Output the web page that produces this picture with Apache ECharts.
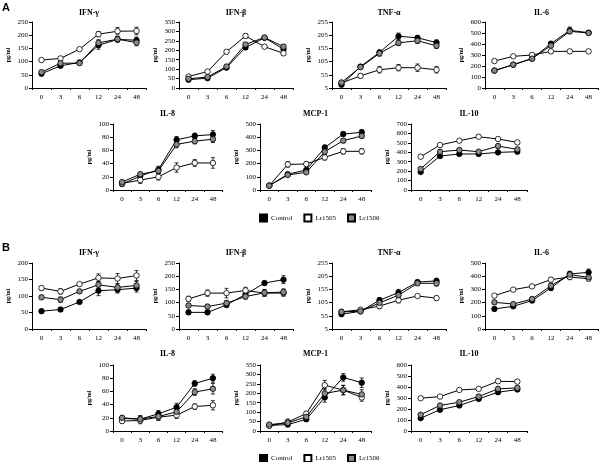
<!DOCTYPE html>
<html><head><meta charset="utf-8">
<script src="https://cdn.jsdelivr.net/npm/echarts@6/dist/echarts.min.js"></script>
<style>html,body{margin:0;padding:0;background:#fff}#c{width:600px;height:462px}</style>
</head><body><div id="c"></div>
<script>
const times = ['0','3','6','12','24','48'];
const seriesNames = ['Control','Lr1505','Lr1506'];

// ---- Panel A ----
const A_IFNg_ctrl = [54,84,97,162,184,181],   A_IFNg_ctrlErr = [5,6,5,15,10,12];
const A_IFNg_1505 = [106,112,147,204,215,216], A_IFNg_1505Err = [6,6,5,10,14,14];
const A_IFNg_1506 = [60,94,94,171,185,172],   A_IFNg_1506Err = [6,6,6,12,10,12];

const A_IFNb_ctrl = [44,52,108,215,266,206],  A_IFNb_ctrlErr = [5,5,8,10,10,10];
const A_IFNb_1505 = [61,87,192,276,219,184],  A_IFNb_1505Err = [5,5,10,12,10,8];
const A_IFNb_1506 = [49,58,114,231,268,219],  A_IFNb_1506Err = [5,5,8,10,10,10];

const A_TNF_ctrl = [17,86,140,201,195,177],   A_TNF_ctrlErr = [4,8,8,12,8,10];
const A_TNF_1505 = [24,51,74,82,82,74],       A_TNF_1505Err = [4,8,12,12,14,12];
const A_TNF_1506 = [26,84,136,176,184,165],   A_TNF_1506Err = [4,8,10,10,10,10];

const A_IL6_ctrl = [158,212,267,403,524,503], A_IL6_ctrlErr = [10,10,10,20,30,15];
const A_IL6_1505 = [245,288,300,333,333,333], A_IL6_1505Err = [10,10,10,15,15,10];
const A_IL6_1506 = [158,212,267,385,515,500], A_IL6_1506Err = [10,10,10,15,20,15];

const A_IL8_ctrl = [9,21,31,76,82,84],        A_IL8_ctrlErr = [2,3,5,5,4,6];
const A_IL8_1505 = [10,15,20,34,41,41],       A_IL8_1505Err = [2,5,5,7,5,8];
const A_IL8_1506 = [12,24,29,69,74,77],       A_IL8_1506Err = [2,3,4,5,4,5];

const A_MCP_ctrl = [33,119,152,321,424,437],  A_MCP_ctrlErr = [5,10,10,20,15,20];
const A_MCP_1505 = [33,194,197,247,293,293],  A_MCP_1505Err = [5,20,15,20,20,20];
const A_MCP_1506 = [33,114,134,290,374,409],  A_MCP_1506Err = [5,10,10,15,15,15];

const A_IL10_ctrl = [191,360,382,382,399,406], A_IL10_ctrlErr = [15,15,15,15,20,15];
const A_IL10_1505 = [353,477,523,565,541,505], A_IL10_1505Err = [15,15,12,12,15,20];
const A_IL10_1506 = [223,406,424,406,466,431], A_IL10_1506Err = [15,15,15,15,20,15];

// ---- Panel B ----
const B_IFNg_ctrl = [54,59,82,116,119,124],    B_IFNg_ctrlErr = [6,6,5,15,10,12];
const B_IFNg_1505 = [124,114,136,155,153,162], B_IFNg_1505Err = [6,8,5,12,15,15];
const B_IFNg_1506 = [96,89,114,134,126,132],   B_IFNg_1506Err = [6,8,6,10,10,12];

const B_IFNb_ctrl = [63,63,91,131,174,187],    B_IFNb_ctrlErr = [8,8,8,10,8,15];
const B_IFNb_1505 = [114,136,136,146,136,136], B_IFNb_1505Err = [10,12,18,12,12,12];
const B_IFNb_1506 = [89,85,98,123,137,140],    B_IFNb_1506Err = [8,8,10,10,12,12];

const B_TNF_ctrl = [61,72,114,143,183,187],    B_TNF_ctrlErr = [5,6,10,12,6,10];
const B_TNF_1505 = [70,78,92,114,130,122],     B_TNF_1505Err = [5,6,10,10,6,8];
const B_TNF_1506 = [70,72,104,133,178,178],    B_TNF_1506Err = [5,6,8,10,8,10];

const B_IL6_ctrl = [152,172,215,311,417,429],  B_IL6_ctrlErr = [15,12,12,20,20,25];
const B_IL6_1505 = [253,298,323,374,394,381],  B_IL6_1505Err = [10,10,10,15,20,15];
const B_IL6_1506 = [202,189,227,328,412,391],  B_IL6_1506Err = [15,10,15,20,20,20];

const B_IL8_ctrl = [19,18,26,36,72,80],        B_IL8_ctrlErr = [3,5,5,6,4,6];
const B_IL8_1505 = [15,16,21,24,37,39],        B_IL8_1505Err = [3,5,5,5,4,7];
const B_IL8_1506 = [20,18,22,29,59,64],        B_IL8_1506Err = [3,5,5,5,5,8];

const B_MCP_ctrl = [30,34,62,178,284,256],     B_MCP_ctrlErr = [5,5,8,25,20,25];
const B_MCP_1505 = [27,48,92,243,217,178],     B_MCP_1505Err = [5,15,10,25,25,20];
const B_MCP_1506 = [34,43,75,199,217,194],     B_MCP_1506Err = [5,10,8,25,25,25];

const B_IL10_ctrl = [117,193,232,292,352,377], B_IL10_ctrlErr = [10,12,12,15,20,15];
const B_IL10_1505 = [298,313,373,383,452,449], B_IL10_1505Err = [10,10,12,15,20,15];
const B_IL10_1506 = [148,232,262,313,383,392], B_IL10_1506Err = [10,12,12,15,15,15];

// axis tick settings per panel: [min, max, interval]
const panels = [
  {t:'IFN-γ', d:[A_IFNg_ctrl,A_IFNg_1505,A_IFNg_1506], e:[A_IFNg_ctrlErr,A_IFNg_1505Err,A_IFNg_1506Err], ax:[0,250,50], g:[32,22,114], ty:13},
  {t:'IFN-β', d:[A_IFNb_ctrl,A_IFNb_1505,A_IFNb_1506], e:[A_IFNb_ctrlErr,A_IFNb_1505Err,A_IFNb_1506Err], ax:[0,350,50], g:[179,22,114], ty:13},
  {t:'TNF-α', d:[A_TNF_ctrl,A_TNF_1505,A_TNF_1506], e:[A_TNF_ctrlErr,A_TNF_1505Err,A_TNF_1506Err], ax:[5,255,50], g:[332,22,114], ty:13},
  {t:'IL-6', d:[A_IL6_ctrl,A_IL6_1505,A_IL6_1506], e:[A_IL6_ctrlErr,A_IL6_1505Err,A_IL6_1506Err], ax:[0,600,100], g:[485,22,113], ty:13},
  {t:'IL-8', d:[A_IL8_ctrl,A_IL8_1505,A_IL8_1506], e:[A_IL8_ctrlErr,A_IL8_1505Err,A_IL8_1506Err], ax:[0,100,20], g:[113,124,109], ty:114},
  {t:'MCP-1', d:[A_MCP_ctrl,A_MCP_1505,A_MCP_1506], e:[A_MCP_ctrlErr,A_MCP_1505Err,A_MCP_1506Err], ax:[0,500,100], g:[260,124,111], ty:114},
  {t:'IL-10', d:[A_IL10_ctrl,A_IL10_1505,A_IL10_1506], e:[A_IL10_ctrlErr,A_IL10_1505Err,A_IL10_1506Err], ax:[0,700,100], g:[411,124,116], ty:114},
  {t:'IFN-γ', d:[B_IFNg_ctrl,B_IFNg_1505,B_IFNg_1506], e:[B_IFNg_ctrlErr,B_IFNg_1505Err,B_IFNg_1506Err], ax:[0,200,50], g:[32,263,114], ty:253},
  {t:'IFN-β', d:[B_IFNb_ctrl,B_IFNb_1505,B_IFNb_1506], e:[B_IFNb_ctrlErr,B_IFNb_1505Err,B_IFNb_1506Err], ax:[0,250,50], g:[179,263,114], ty:253},
  {t:'TNF-α', d:[B_TNF_ctrl,B_TNF_1505,B_TNF_1506], e:[B_TNF_ctrlErr,B_TNF_1505Err,B_TNF_1506Err], ax:[5,255,50], g:[332,263,114], ty:253},
  {t:'IL-6', d:[B_IL6_ctrl,B_IL6_1505,B_IL6_1506], e:[B_IL6_ctrlErr,B_IL6_1505Err,B_IL6_1506Err], ax:[0,500,100], g:[485,263,113], ty:253},
  {t:'IL-8', d:[B_IL8_ctrl,B_IL8_1505,B_IL8_1506], e:[B_IL8_ctrlErr,B_IL8_1505Err,B_IL8_1506Err], ax:[0,100,20], g:[113,365,109], ty:354},
  {t:'MCP-1', d:[B_MCP_ctrl,B_MCP_1505,B_MCP_1506], e:[B_MCP_ctrlErr,B_MCP_1505Err,B_MCP_1506Err], ax:[0,350,50], g:[260,365,111], ty:354},
  {t:'IL-10', d:[B_IL10_ctrl,B_IL10_1505,B_IL10_1506], e:[B_IL10_ctrlErr,B_IL10_1505Err,B_IL10_1506Err], ax:[0,600,100], g:[411,365,116], ty:354}
];

const FONT = '"Liberation Serif", "Times New Roman", serif';
const fills = ['#000000','#ffffff','#8a8a8a'];
const PH = 66;

const grid = [], xAxis = [], yAxis = [], series = [], graphic = [];

// legend key series (no data; they only supply the square legend keys)
seriesNames.forEach((n, s) => {
  series.push({type:'bar', name:n, xAxisIndex:0, yAxisIndex:0, data:[],
    itemStyle:{color: fills[s], borderColor:'#000', borderWidth:0.8}});
});

panels.forEach((p, i) => {
  grid.push({left: p.g[0], top: p.g[1], width: p.g[2], height: PH, containLabel: false});
  xAxis.push({type:'category', gridIndex:i, data: times, boundaryGap:true,
    axisLine:{lineStyle:{color:'#000', width:1}},
    axisTick:{show:true, length:2, lineStyle:{color:'#000'}},
    axisLabel:{color:'#000', fontFamily:FONT, fontSize:7, margin:6}});
  yAxis.push({type:'value', gridIndex:i, min:p.ax[0], max:p.ax[1], interval:p.ax[2],
    name:'pg/ml', nameLocation:'middle', nameGap:21, nameRotate:90,
    nameTextStyle:{color:'#000', fontFamily:FONT, fontSize:6, fontWeight:'bold'},
    axisLine:{show:true, lineStyle:{color:'#000', width:1}},
    axisTick:{show:true, length:3, lineStyle:{color:'#000'}},
    splitLine:{show:false},
    axisLabel:{color:'#000', fontFamily:FONT, fontSize:7, margin:4}});
  // error bars
  const errData = [];
  p.d.forEach((arr, s) => arr.forEach((v, k) => errData.push([k, v - p.e[s][k], v + p.e[s][k]])));
  series.push({type:'custom', xAxisIndex:i, yAxisIndex:i, z:1, silent:true,
    data: errData,
    renderItem: function(params, api){
      const x = api.value(0);
      const lo = api.coord([x, api.value(1)]);
      const hi = api.coord([x, api.value(2)]);
      const c = 2;
      const st = {stroke:'#000', lineWidth:0.8};
      return {type:'group', children:[
        {type:'line', shape:{x1:lo[0], y1:lo[1], x2:hi[0], y2:hi[1]}, style:st},
        {type:'line', shape:{x1:hi[0]-c, y1:hi[1], x2:hi[0]+c, y2:hi[1]}, style:st},
        {type:'line', shape:{x1:lo[0]-c, y1:lo[1], x2:lo[0]+c, y2:lo[1]}, style:st}
      ]};
    }});
  p.d.forEach((arr, s) => {
    series.push({type:'line', name: seriesNames[s], xAxisIndex:i, yAxisIndex:i, data: arr,
      z: 3 + s, symbol:'circle', symbolSize:5.5, showSymbol:true,
      lineStyle:{color:'#000', width:1},
      itemStyle:{color: fills[s], borderColor:'#000', borderWidth:0.8},
      emphasis:{disabled:true}, animation:false});
  });
  graphic.push({type:'text', x: p.g[0] + p.g[2]/2, y: p.ty,
    style:{text:p.t, fill:'#000', font:'bold 8px ' + FONT, textAlign:'center', textVerticalAlign:'middle'}});
});
graphic.push({type:'text', x:2, y:8, style:{text:'A', fill:'#000', font:'bold 11px "Liberation Sans", Arial, sans-serif', textAlign:'left', textVerticalAlign:'middle'}});
graphic.push({type:'text', x:2, y:248, style:{text:'B', fill:'#000', font:'bold 11px "Liberation Sans", Arial, sans-serif', textAlign:'left', textVerticalAlign:'middle'}});

function mkLegend(top){
  return {data: seriesNames, left: 259, top: top, padding:0, icon:'rect', itemWidth:7, itemHeight:7, itemGap:11,
    selectedMode:false, textStyle:{color:'#000', fontFamily:FONT, fontSize:7, padding:[0,0,0,-1]}};
}

const chart = echarts.init(document.getElementById('c'), null, {renderer:'canvas'});
chart.setOption({
  animation:false,
  backgroundColor:'#fff',
  grid, xAxis, yAxis, series, graphic,
  legend:[mkLegend(213.5), mkLegend(454)]
});
</script></body></html>
